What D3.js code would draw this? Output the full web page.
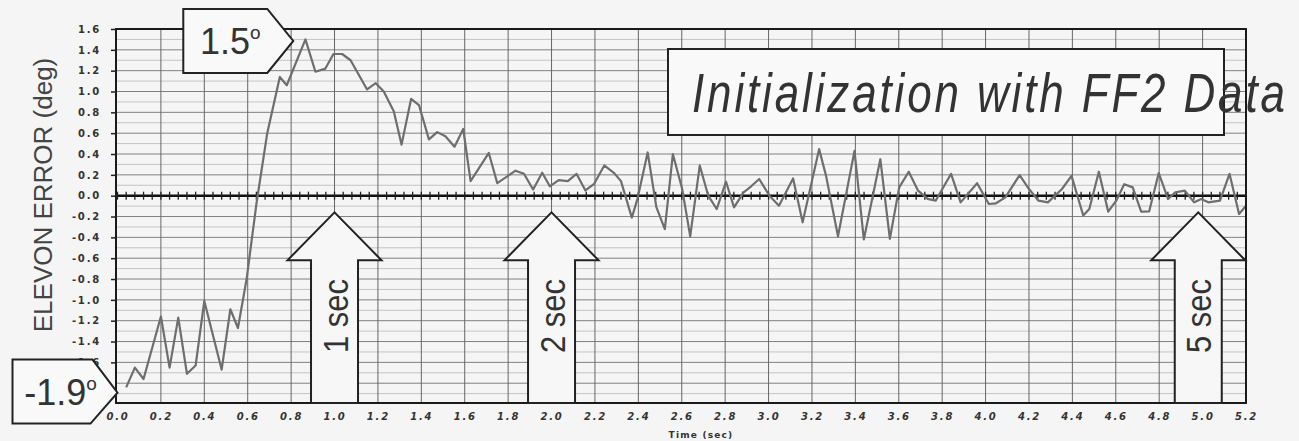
<!DOCTYPE html>
<html>
<head>
<meta charset="utf-8">
<script src="https://cdn.jsdelivr.net/npm/d3@7/dist/d3.min.js"></script>
<style>
  body { margin: 0; background: #f4f4f4; }
  svg { display: block; }
</style>
</head>
<body>
<script>
// sample times (sec) and elevon error (deg)
const times = [0.04, 0.08, 0.12, 0.20, 0.24, 0.28, 0.32, 0.36, 0.40, 0.48, 0.52, 0.555, 0.595, 0.64, 0.69,
  0.748, 0.78, 0.866, 0.912, 0.958, 0.995, 1.035, 1.074, 1.15, 1.19, 1.227, 1.273, 1.309, 1.353, 1.389,
  1.435, 1.473, 1.511, 1.553, 1.593, 1.627, 1.711, 1.75, 1.834, 1.873, 1.915, 1.957, 1.992, 2.033, 2.075,
  2.115, 2.156, 2.195, 2.243, 2.287, 2.32, 2.37, 2.396, 2.443, 2.483, 2.522, 2.559, 2.602, 2.639, 2.683,
  2.722, 2.761, 2.804, 2.841, 2.885, 2.92, 2.957, 3.004, 3.048, 3.113, 3.157, 3.233, 3.265, 3.32, 3.396,
  3.439, 3.515, 3.559, 3.602, 3.646, 3.689, 3.733, 3.77, 3.841, 3.885, 3.961, 4.015, 4.048, 4.091, 4.157,
  4.2, 4.244, 4.287, 4.352, 4.396, 4.45, 4.478, 4.522, 4.565, 4.602, 4.639, 4.678, 4.717, 4.754, 4.798,
  4.841, 4.874, 4.918, 4.961, 4.994, 5.026, 5.08, 5.124, 5.168, 5.2];
const errors = [-1.84, -1.65, -1.76, -1.16, -1.65, -1.17, -1.71, -1.63, -1.01, -1.67, -1.09, -1.27, -0.80, -0.08, 0.60,
  1.14, 1.06, 1.50, 1.19, 1.22, 1.36, 1.36, 1.30, 1.02, 1.08, 1.00, 0.81, 0.49, 0.93, 0.87,
  0.54, 0.61, 0.57, 0.47, 0.64, 0.14, 0.41, 0.12, 0.24, 0.21, 0.06, 0.22, 0.09, 0.15, 0.14,
  0.21, 0.05, 0.11, 0.29, 0.22, 0.14, -0.21, -0.03, 0.415, -0.11, -0.32, 0.40, 0.064, -0.39, 0.29,
  0.0, -0.128, 0.134, -0.112, 0.032, 0.09, 0.16, 0.0, -0.096, 0.166, -0.256, 0.447, 0.19, -0.39, 0.43,
  -0.42, 0.35, -0.415, 0.08, 0.23, 0.048, -0.03, -0.048, 0.21, -0.064, 0.12, -0.08, -0.073, -0.016, 0.198,
  0.064, -0.048, -0.064, 0.064, 0.19, -0.19, -0.128, 0.23, -0.153, -0.048, 0.11, 0.08, -0.153, -0.15, 0.217,
  -0.032, 0.032, 0.048, -0.064, -0.032, -0.064, -0.048, 0.21, -0.176, -0.096];

const xTicks = [0.0, 0.2, 0.4, 0.6, 0.8, 1.0, 1.2, 1.4, 1.6, 1.8, 2.0, 2.2, 2.4, 2.6, 2.8, 3.0,
  3.2, 3.4, 3.6, 3.8, 4.0, 4.2, 4.4, 4.6, 4.8, 5.0, 5.2];
const yTicks = [-1.8, -1.6, -1.4, -1.2, -1.0, -0.8, -0.6, -0.4, -0.2, 0.0, 0.2, 0.4, 0.6, 0.8,
  1.0, 1.2, 1.4, 1.6];
const yLabelTicks = [-1.6, -1.4, -1.2, -1.0, -0.8, -0.6, -0.4, -0.2, 0.0, 0.2, 0.4, 0.6, 0.8,
  1.0, 1.2, 1.4, 1.6];
const yMinor = [-1.9, -1.7, -1.5, -1.3, -1.1, -0.9, -0.7, -0.5, -0.3, -0.1, 0.1, 0.3, 0.5, 0.7,
  0.9, 1.1, 1.3, 1.5];
const markTimes = d3.range(0, 131).map(i => i * 0.04);

const arrowTimes = [1.0, 2.0, 4.98];
const arrowLabels = ["1 sec", "2 sec", "5 sec"];

const peakCallout = { t: 0.81, v: 1.485, label: "1.5" };
const startCallout = { t: 0.0, v: -1.89, label: "-1.9" };
const title = "Initialization with FF2 Data";

const width = 1299, height = 441;
const plotL = 116, plotR = 1246, plotT = 29, plotB = 403;

const x = d3.scaleLinear().domain([0, 5.2]).range([117.5, 1246]);
const y = d3.scaleLinear().domain([-1.99, 1.6]).range([plotB, plotT]);

const svg = d3.select("body").append("svg")
  .attr("width", width)
  .attr("height", height);

svg.append("rect").attr("width", width).attr("height", height).attr("fill", "#f5f5f5");

// grid
const grid = svg.append("g");
grid.selectAll(".minor").data(yMinor).enter().append("line")
  .attr("x1", plotL).attr("x2", plotR)
  .attr("y1", d => y(d)).attr("y2", d => y(d))
  .attr("stroke", "#c4c4c4").attr("stroke-width", 1);
grid.selectAll(".hmaj").data(yTicks).enter().append("line")
  .attr("x1", plotL).attr("x2", plotR)
  .attr("y1", d => y(d)).attr("y2", d => y(d))
  .attr("stroke", "#808080").attr("stroke-width", 1);
grid.selectAll(".vmaj").data(xTicks.slice(1, -1)).enter().append("line")
  .attr("x1", d => x(d)).attr("x2", d => x(d))
  .attr("y1", plotT).attr("y2", plotB)
  .attr("stroke", "#666").attr("stroke-width", 1);

// zero line with sample marks
svg.append("line")
  .attr("x1", plotL).attr("x2", plotR)
  .attr("y1", y(0)).attr("y2", y(0))
  .attr("stroke", "#111").attr("stroke-width", 2.5);
svg.append("g").selectAll("line").data(markTimes).enter().append("line")
  .attr("x1", d => x(d)).attr("x2", d => x(d))
  .attr("y1", y(0) - 4).attr("y2", y(0) + 4)
  .attr("stroke", "#222").attr("stroke-width", 1.3);

// data trace
const line = d3.line().x(d => x(d[0])).y(d => y(d[1]));
svg.append("path")
  .datum(times.map((t, i) => [t, errors[i]]))
  .attr("d", line)
  .attr("fill", "none")
  .attr("stroke", "#6e6e6e")
  .attr("stroke-width", 2.2)
  .attr("stroke-linejoin", "round");

// plot frame
svg.append("rect")
  .attr("x", plotL).attr("y", plotT)
  .attr("width", plotR - plotL).attr("height", plotB - plotT)
  .attr("fill", "none").attr("stroke", "#1a1a1a").attr("stroke-width", 2);

// axes
const yAxis = svg.append("g")
  .attr("transform", `translate(${plotL},0)`)
  .call(d3.axisLeft(y).tickValues(yLabelTicks).tickSize(5).tickPadding(10).tickFormat(d => d.toFixed(1)));
yAxis.select(".domain").remove();
yAxis.selectAll("line").attr("stroke", "#222").attr("stroke-width", 1.5);
yAxis.selectAll("text")
  .attr("fill", "#333")
  .style("font-family", "'DejaVu Sans', sans-serif")
  .style("font-weight", "bold")
  .style("font-size", "10px")
  .style("letter-spacing", "1.8px");

const xAxis = svg.append("g")
  .attr("transform", `translate(0,${plotB})`)
  .call(d3.axisBottom(x).tickValues(xTicks).tickSize(0).tickPadding(10).tickFormat(d => d.toFixed(1)));
xAxis.select(".domain").remove();
xAxis.selectAll("text")
  .attr("fill", "#333")
  .style("font-family", "'DejaVu Sans', sans-serif")
  .style("font-weight", "bold")
  .style("font-style", "italic")
  .style("font-size", "10px")
  .style("letter-spacing", "1.8px");

svg.append("text")
  .attr("x", 701).attr("y", 438)
  .attr("text-anchor", "middle")
  .style("font-family", "'DejaVu Sans', sans-serif")
  .style("font-weight", "bold")
  .style("font-size", "9px")
  .style("letter-spacing", "1.2px")
  .attr("fill", "#333")
  .text("Time (sec)");

svg.append("text")
  .attr("transform", "translate(52,195) rotate(-90)")
  .attr("text-anchor", "middle")
  .style("font-family", "'Liberation Sans', Arial, sans-serif")
  .style("font-size", "26px")
  .attr("fill", "#444")
  .text("ELEVON ERROR (deg)");

// arrows
const arrowTip = y(-0.16), arrowBase = y(-0.62);
const arrows = svg.append("g").selectAll("g").data(arrowTimes).enter().append("g");
arrows.append("path")
  .attr("d", d => {
    const c = x(d);
    return `M${c - 23.5},${plotB} L${c - 23.5},${arrowBase} L${c - 47},${arrowBase} L${c},${arrowTip}` +
      ` L${c + 47},${arrowBase} L${c + 23.5},${arrowBase} L${c + 23.5},${plotB} Z`;
  })
  .attr("fill", "#f7f7f7")
  .attr("stroke", "#222")
  .attr("stroke-width", 2);
arrows.append("text")
  .attr("transform", d => `translate(${x(d) + 13},316) rotate(-90)`)
  .attr("text-anchor", "middle")
  .attr("textLength", 74)
  .attr("lengthAdjust", "spacingAndGlyphs")
  .style("font-family", "'Liberation Sans', Arial, sans-serif")
  .style("font-size", "35px")
  .attr("fill", "#333")
  .text((d, i) => arrowLabels[i]);

// title box
svg.append("rect")
  .attr("x", 668).attr("y", 49)
  .attr("width", 556).attr("height", 86)
  .attr("fill", "#f9f9f9")
  .attr("stroke", "#222").attr("stroke-width", 2);
svg.append("text")
  .attr("transform", "translate(692,112) scale(0.8,1)")
  .attr("textLength", 593 / 0.8)
  .attr("lengthAdjust", "spacing")
  .style("font-family", "'Liberation Sans', Arial, sans-serif")
  .style("font-style", "italic")
  .style("font-size", "55px")
  .attr("fill", "#333")
  .text(title);

// callouts
function callout(c, pts, tx, ty) {
  const px = x(c.t), py = y(c.v);
  svg.append("path")
    .attr("d", "M" + pts.map(p => [px + p[0], py + p[1]].join(",")).join("L") + "Z")
    .attr("fill", "#f9f9f9")
    .attr("stroke", "#222").attr("stroke-width", 2);
  const t = svg.append("text")
    .attr("x", px + tx).attr("y", py + ty)
    .attr("text-anchor", "middle")
    .style("font-family", "'Liberation Sans', Arial, sans-serif")
    .style("font-size", "36px")
    .attr("fill", "#333");
  t.append("tspan").text(c.label);
  t.append("tspan").attr("dy", -15).style("font-size", "19px").text("o");
}
callout(peakCallout, [[-110, -32], [-26, -32], [0, 0], [-26, 32], [-110, 32]], -63, 13);
callout(startCallout, [[-105, -33], [-25, -33], [0, 0], [-27, 31], [-105, 31]], -57, 12);
</script>
</body>
</html>
